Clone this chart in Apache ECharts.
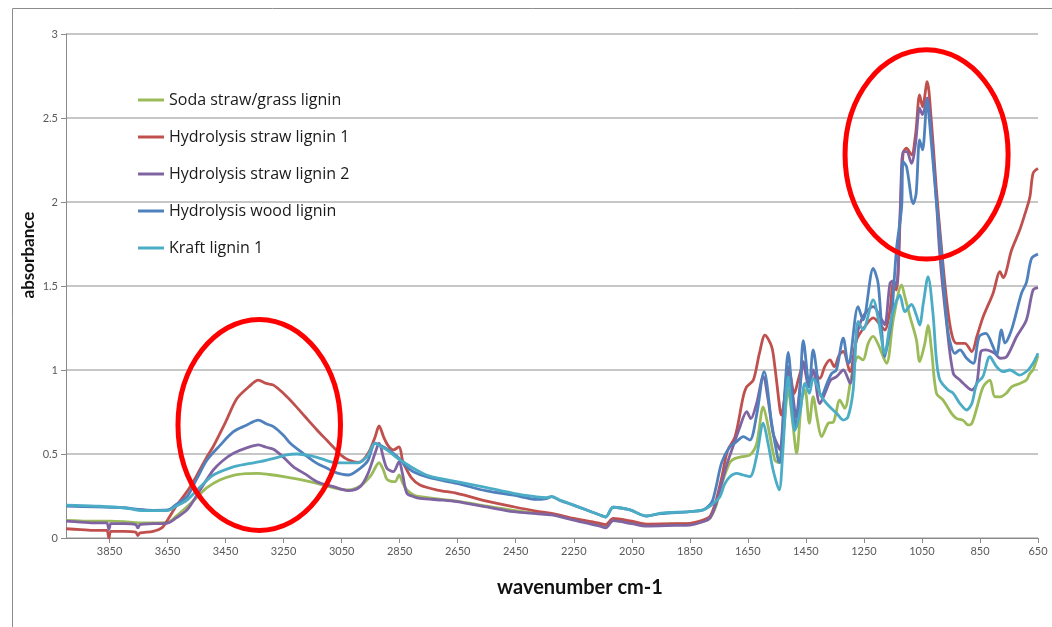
<!DOCTYPE html>
<html>
<head>
<meta charset="utf-8">
<script src="https://cdn.jsdelivr.net/npm/echarts@6/dist/echarts.min.js"></script>
<style>
html,body{margin:0;padding:0;background:#fff;}
#chart{width:1052px;height:627px;}
</style>
</head>
<body>
<div id="chart"></div>
<script>
// Tick labels of the wavenumber axis
const xTicks = [3850, 3650, 3450, 3250, 3050, 2850, 2650, 2450, 2250, 2050, 1850, 1650, 1450, 1250, 1050, 850, 650];

const seriesNames = ['Soda straw/grass lignin', 'Hydrolysis straw lignin 1', 'Hydrolysis straw lignin 2', 'Hydrolysis wood lignin', 'Kraft lignin 1'];

// [wavenumber, absorbance]
const soda = [[4000,0.105],[3900,0.10],[3850,0.10],[3800,0.097],[3750,0.09],[3700,0.09],[3650,0.093],[3620,0.13],[3583,0.186],[3550,0.24],[3514,0.30],[3470,0.345],[3423,0.373],[3380,0.383],[3340,0.385],[3300,0.378],[3250,0.366],[3200,0.35],[3135,0.325],[3080,0.30],[3026,0.286],[2986,0.31],[2950,0.37],[2921,0.448],[2905,0.40],[2894,0.35],[2866,0.335],[2852,0.375],[2840,0.33],[2825,0.286],[2800,0.255],[2780,0.246],[2700,0.228],[2653,0.22],[2550,0.19],[2458,0.165],[2380,0.148],[2326,0.14],[2250,0.112],[2160,0.083],[2140,0.07],[2114,0.105],[2050,0.09],[1999,0.078],[1950,0.083],[1850,0.085],[1800,0.10],[1780,0.12],[1760,0.19],[1740,0.32],[1712,0.45],[1694,0.474],[1671,0.484],[1643,0.494],[1620,0.56],[1597,0.781],[1580,0.663],[1557,0.464],[1545,0.45],[1528,0.62],[1511,0.881],[1495,0.68],[1482,0.504],[1465,0.82],[1453,0.881],[1438,0.683],[1425,0.841],[1410,0.70],[1396,0.603],[1373,0.683],[1355,0.69],[1333,0.821],[1316,0.772],[1293,0.96],[1270,1.079],[1253,1.06],[1235,1.16],[1218,1.2],[1200,1.15],[1172,1.04],[1149,1.298],[1120,1.506],[1109,1.437],[1091,1.317],[1069,1.179],[1058,1.05],[1040,1.159],[1029,1.265],[1017,1.119],[1000,0.861],[977,0.821],[948,0.742],[931,0.712],[908,0.70],[891,0.673],[878,0.683],[860,0.78],[839,0.90],[816,0.94],[799,0.841],[781,0.84],[760,0.86],[741,0.90],[713,0.92],[690,0.94],[678,0.98],[667,1.0],[650,1.085]];

const hydroStraw1 = [[4000,0.055],[3950,0.05],[3900,0.045],[3860,0.045],[3852,0.0],[3845,0.04],[3800,0.04],[3760,0.035],[3752,0.015],[3745,0.03],[3700,0.04],[3670,0.06],[3650,0.107],[3620,0.19],[3583,0.276],[3550,0.37],[3514,0.484],[3493,0.543],[3450,0.69],[3411,0.83],[3370,0.90],[3337,0.94],[3310,0.92],[3285,0.91],[3250,0.86],[3216,0.80],[3175,0.72],[3135,0.643],[3100,0.58],[3078,0.54],[3050,0.49],[3026,0.464],[2992,0.45],[2960,0.50],[2935,0.60],[2921,0.667],[2905,0.60],[2890,0.55],[2872,0.524],[2852,0.543],[2840,0.46],[2831,0.424],[2810,0.36],[2780,0.315],[2720,0.285],[2653,0.266],[2550,0.22],[2458,0.186],[2380,0.16],[2326,0.147],[2251,0.117],[2160,0.0875],[2140,0.08],[2114,0.117],[2050,0.10],[1999,0.083],[1900,0.085],[1850,0.0875],[1800,0.11],[1780,0.13],[1760,0.22],[1740,0.36],[1720,0.52],[1694,0.603],[1666,0.841],[1654,0.90],[1631,0.94],[1610,1.10],[1591,1.208],[1568,1.139],[1557,1.02],[1539,0.762],[1534,0.732],[1520,0.88],[1508,1.0],[1490,0.86],[1475,0.95],[1459,1.03],[1440,0.93],[1425,0.99],[1402,0.95],[1385,1.02],[1367,1.06],[1352,1.02],[1335,1.09],[1321,1.11],[1298,0.99],[1275,1.18],[1247,1.258],[1218,1.31],[1189,1.258],[1178,1.238],[1160,1.357],[1149,1.516],[1138,1.476],[1125,1.90],[1115,2.29],[1103,2.32],[1086,2.28],[1072,2.40],[1058,2.637],[1048,2.567],[1032,2.716],[1017,2.468],[1000,2.07],[983,1.734],[965,1.417],[948,1.218],[931,1.159],[902,1.159],[878,1.109],[861,1.198],[839,1.317],[805,1.456],[781,1.585],[770,1.55],[741,1.714],[713,1.833],[696,1.923],[678,2.03],[667,2.171],[650,2.20]];

const hydroStraw2 = [[4000,0.10],[3950,0.095],[3900,0.09],[3860,0.09],[3852,0.05],[3845,0.085],[3800,0.085],[3760,0.08],[3752,0.06],[3745,0.08],[3700,0.085],[3650,0.089],[3620,0.12],[3583,0.167],[3540,0.28],[3492,0.405],[3460,0.46],[3423,0.504],[3380,0.535],[3337,0.554],[3310,0.54],[3285,0.528],[3250,0.48],[3216,0.424],[3175,0.38],[3135,0.335],[3100,0.315],[3078,0.306],[3050,0.29],[3026,0.282],[2986,0.306],[2960,0.38],[2935,0.504],[2921,0.564],[2905,0.47],[2894,0.415],[2872,0.395],[2852,0.454],[2840,0.38],[2825,0.266],[2800,0.245],[2780,0.236],[2700,0.225],[2653,0.216],[2550,0.185],[2458,0.157],[2380,0.145],[2326,0.137],[2251,0.107],[2160,0.071],[2140,0.06],[2114,0.103],[2050,0.085],[1999,0.071],[1900,0.075],[1850,0.077],[1800,0.10],[1780,0.12],[1760,0.20],[1740,0.33],[1720,0.45],[1700,0.55],[1677,0.663],[1654,0.752],[1640,0.71],[1620,0.80],[1597,0.96],[1580,0.821],[1563,0.623],[1545,0.543],[1539,0.524],[1525,0.80],[1511,1.02],[1495,0.85],[1484,0.72],[1470,0.90],[1459,1.05],[1440,0.90],[1425,1.0],[1402,0.80],[1380,0.88],[1365,0.94],[1344,0.96],[1321,1.0],[1298,0.921],[1275,1.2],[1253,1.317],[1218,1.377],[1189,1.30],[1178,1.27],[1160,1.516],[1149,1.53],[1138,1.50],[1125,1.95],[1115,2.30],[1103,2.30],[1086,2.23],[1072,2.35],[1058,2.558],[1048,2.52],[1032,2.62],[1017,2.40],[1000,2.0],[988,1.675],[965,1.278],[942,0.98],[919,0.94],[908,0.921],[878,0.881],[861,0.92],[847,1.109],[830,1.12],[799,1.099],[781,1.07],[758,1.08],[724,1.198],[690,1.298],[667,1.476],[650,1.49]];

const hydroWood = [[4000,0.19],[3900,0.185],[3800,0.18],[3750,0.17],[3700,0.165],[3650,0.167],[3620,0.20],[3583,0.246],[3550,0.35],[3514,0.464],[3470,0.55],[3423,0.633],[3380,0.67],[3337,0.702],[3310,0.68],[3285,0.663],[3250,0.61],[3227,0.564],[3180,0.50],[3135,0.444],[3100,0.415],[3078,0.395],[3050,0.38],[3026,0.375],[2986,0.415],[2960,0.46],[2935,0.564],[2921,0.555],[2894,0.53],[2872,0.504],[2852,0.474],[2831,0.43],[2803,0.395],[2750,0.36],[2653,0.325],[2550,0.28],[2458,0.255],[2378,0.23],[2345,0.235],[2326,0.246],[2300,0.225],[2251,0.196],[2160,0.137],[2140,0.125],[2114,0.183],[2056,0.167],[1999,0.131],[1950,0.145],[1850,0.157],[1804,0.167],[1780,0.20],[1771,0.226],[1760,0.30],[1740,0.45],[1712,0.543],[1689,0.573],[1666,0.603],[1643,0.583],[1620,0.73],[1594,0.99],[1568,0.683],[1545,0.46],[1539,0.448],[1525,0.80],[1511,1.105],[1495,0.80],[1484,0.655],[1470,0.90],[1459,1.175],[1438,0.90],[1425,1.119],[1396,0.841],[1375,0.93],[1361,0.98],[1345,1.0],[1321,1.19],[1304,1.04],[1298,1.05],[1270,1.377],[1253,1.298],[1218,1.605],[1201,1.516],[1178,1.079],[1166,1.179],[1155,1.30],[1138,1.714],[1120,1.97],[1115,2.24],[1103,2.21],[1080,1.99],[1070,2.05],[1058,2.37],[1048,2.31],[1032,2.607],[1025,2.50],[1000,2.0],[983,1.70],[965,1.30],[955,1.18],[937,1.099],[919,1.12],[896,1.07],[873,1.04],[853,1.198],[830,1.218],[805,1.139],[793,1.089],[776,1.238],[764,1.16],[741,1.24],[707,1.456],[690,1.52],[672,1.665],[650,1.69]];

const kraft = [[4000,0.196],[3900,0.19],[3800,0.18],[3750,0.165],[3700,0.163],[3650,0.163],[3620,0.19],[3583,0.226],[3540,0.30],[3492,0.375],[3423,0.424],[3380,0.44],[3331,0.454],[3280,0.475],[3240,0.495],[3204,0.50],[3160,0.49],[3124,0.474],[3078,0.45],[3030,0.447],[2992,0.448],[2960,0.49],[2935,0.564],[2910,0.54],[2894,0.524],[2852,0.468],[2831,0.446],[2803,0.415],[2750,0.37],[2653,0.335],[2550,0.30],[2458,0.266],[2378,0.245],[2345,0.24],[2326,0.246],[2300,0.228],[2251,0.196],[2160,0.137],[2140,0.125],[2114,0.183],[2056,0.167],[1999,0.131],[1950,0.148],[1850,0.157],[1804,0.167],[1780,0.19],[1760,0.22],[1746,0.246],[1730,0.32],[1712,0.365],[1689,0.385],[1666,0.375],[1643,0.365],[1620,0.484],[1597,0.683],[1580,0.56],[1563,0.405],[1542,0.286],[1530,0.50],[1511,0.96],[1500,0.78],[1488,0.64],[1470,0.75],[1453,0.92],[1438,0.861],[1425,0.95],[1396,0.841],[1373,0.79],[1344,0.742],[1321,0.702],[1305,0.72],[1287,0.881],[1270,1.29],[1253,1.24],[1218,1.417],[1200,1.30],[1178,1.099],[1160,1.27],[1140,1.40],[1126,1.446],[1109,1.347],[1086,1.39],[1070,1.33],[1058,1.268],[1045,1.40],[1029,1.556],[1012,1.337],[1000,1.06],[988,0.94],[960,0.881],[942,0.861],[919,0.80],[896,0.762],[878,0.80],[861,0.92],[840,0.96],[816,1.079],[793,1.02],[770,0.99],[747,1.0],[713,0.97],[684,1.0],[667,1.04],[650,1.10]];

// Highlight ellipses: [centre wavenumber, centre absorbance, half-width (cm-1), half-height (absorbance)]
const highlights = [[3334, 0.673, 280, 0.628], [1034, 2.283, 281, 0.623]];

const colors = ['#9BBB59', '#C0504D', '#8064A2', '#4F81BD', '#4BACC6'];
const allData = [soda, hydroStraw1, hydroStraw2, hydroWood, kraft];

const chart = echarts.init(document.getElementById('chart'), null, {renderer: 'canvas'});
const FONT = 'Lato, "Open Sans", sans-serif';

const option = {
  animation: false,
  backgroundColor: '#fff',
  color: colors,
  grid: {left: 66, right: 14, top: 34, bottom: 89, containLabel: false},
  legend: {
    orient: 'vertical',
    left: 138,
    top: 90,
    padding: 0,
    icon: 'rect',
    itemWidth: 26,
    itemHeight: 3,
    itemGap: 17,
    textStyle: {fontFamily: '"Open Sans", sans-serif', fontSize: 16, color: '#1a1a1a', lineHeight: 20},
    data: seriesNames
  },
  xAxis: {
    type: 'value',
    inverse: true,
    min: 650,
    max: 4000,
    name: 'wavenumber cm-1',
    nameLocation: 'middle',
    nameGap: 40,
    nameMoveOverlap: false,
    nameTextStyle: {fontFamily: FONT, fontSize: 20, fontWeight: 'bold', color: '#111', padding: [0, 0, 0, 56]},
    axisLine: {show: true, lineStyle: {color: '#8a8a8a', width: 1}},
    axisTick: {show: true, customValues: xTicks, length: 5, lineStyle: {color: '#8a8a8a'}},
    axisLabel: {customValues: xTicks, formatter: v => String(v), fontFamily: FONT, fontSize: 11, color: '#595959', margin: 8},
    splitLine: {show: false}
  },
  yAxis: {
    type: 'value',
    min: 0,
    max: 3,
    interval: 0.5,
    name: 'absorbance',
    nameLocation: 'middle',
    nameGap: 29,
    nameMoveOverlap: false,
    nameTextStyle: {fontFamily: FONT, fontSize: 17, fontWeight: 'bold', color: '#111', padding: [0, 0, 0, 62]},
    axisLine: {show: true, lineStyle: {color: '#8a8a8a', width: 1}},
    axisTick: {show: true, length: 5, lineStyle: {color: '#8a8a8a'}},
    axisLabel: {fontFamily: FONT, fontSize: 11, color: '#595959', margin: 8},
    splitLine: {show: true, lineStyle: {color: '#b5b5b5', width: 1.5}}
  },
  series: seriesNames.map((name, i) => ({
    name: name,
    type: 'line',
    data: allData[i],
    showSymbol: false,
    symbol: 'none',
    smooth: 0.3,
    lineStyle: {width: 2.8, color: colors[i]},
    itemStyle: {color: colors[i]},
    z: 2 + i
  }))
};
chart.setOption(option);

function drawAnnotations() {
  const elements = [{
    type: 'rect',
    shape: {x: 12.5, y: 8.5, width: 1200, height: 800},
    style: {fill: null, stroke: '#8c8c8c', lineWidth: 1},
    silent: true,
    z: 0
  }];
  highlights.forEach(h => {
    const c = chart.convertToPixel({gridIndex: 0}, [h[0], h[1]]);
    const ex = chart.convertToPixel({gridIndex: 0}, [h[0] - h[2], h[1] + h[3]]);
    elements.push({
      type: 'ellipse',
      shape: {cx: c[0], cy: c[1], rx: Math.abs(ex[0] - c[0]), ry: Math.abs(c[1] - ex[1])},
      style: {fill: null, stroke: '#FF0000', lineWidth: 5},
      silent: true,
      z: 100
    });
  });
  chart.setOption({graphic: elements});
}
drawAnnotations();
</script>
</body>
</html>
